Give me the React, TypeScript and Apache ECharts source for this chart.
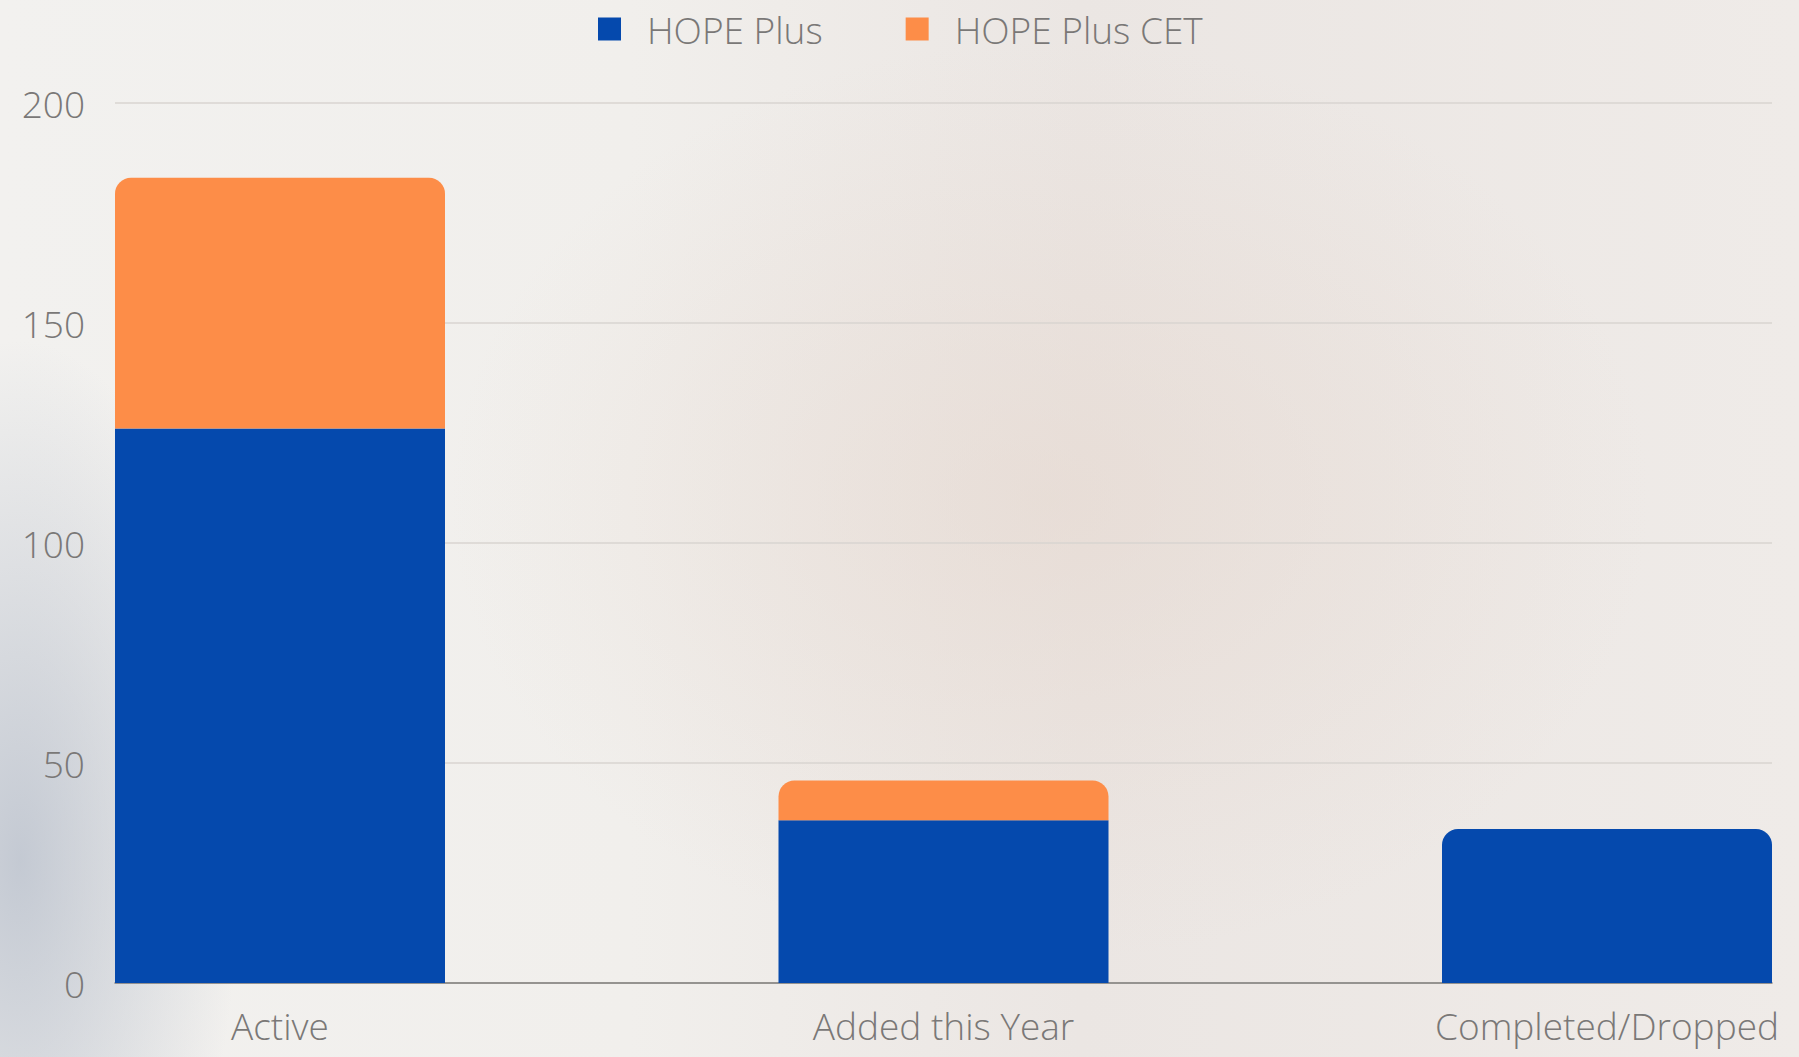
import React, { useEffect, useRef } from "react";
import * as echarts from "echarts";

const categories = ["Active", "Added this Year", "Completed/Dropped"];
const hopePlus = [126, 37, 35];
const hopePlusCET = [57, 9, 0];
const seriesNames = ["HOPE Plus", "HOPE Plus CET"];
const yTicks = { min: 0, max: 200, interval: 50 };

const BLUE = "#0549ad";
const ORANGE = "#fd8d48";
const TEXT = "#7a7877";
const FONT = "'Open Sans', 'Noto Sans', sans-serif";

export default function App() {
  const ref = useRef<HTMLDivElement>(null);
  useEffect(() => {
    document.body.style.margin = "0";
    if (!ref.current) return;
    const chart = echarts.init(ref.current, undefined, { renderer: "svg" });
    const radius = [16, 16, 0, 0];
    chart.setOption({
      animation: false,
      backgroundColor: "transparent",
      textStyle: { fontFamily: FONT },
      legend: {
        left: 593,
        top: 4,
        icon: "rect",
        itemWidth: 23,
        itemHeight: 23,
        itemGap: 83,
        data: seriesNames,
        textStyle: {
          fontSize: 37,
          fontWeight: 300,
          color: TEXT,
          fontFamily: FONT,
          lineHeight: 40,
          padding: [0, 0, 0, 21],
        },
      },
      grid: [
        { left: 115, right: 27, top: 103, bottom: 74 },
        { left: 280, right: 192, top: 103, bottom: 74 },
      ],
      xAxis: [
        {
          gridIndex: 0,
          type: "value",
          min: 0,
          max: 1,
          axisLine: { show: true, lineStyle: { color: "#7d7b79", width: 1.5 } },
          axisTick: { show: false },
          axisLabel: { show: false },
          splitLine: { show: false },
        },
        {
          gridIndex: 1,
          type: "category",
          data: categories,
          boundaryGap: false,
          axisLine: { show: false },
          axisTick: { show: false },
          splitLine: { show: false },
          axisLabel: {
            fontSize: 37,
            fontWeight: 300,
            color: TEXT,
            fontFamily: FONT,
            margin: 24,
            interval: 0,
          },
        },
      ],
      yAxis: [
        {
          gridIndex: 0,
          type: "value",
          min: yTicks.min,
          max: yTicks.max,
          interval: yTicks.interval,
          axisLine: { show: false },
          axisTick: { show: false },
          splitLine: { show: true, lineStyle: { color: "#d9d5d1", width: 1.5 } },
          axisLabel: {
            fontSize: 37,
            fontWeight: 300,
            color: TEXT,
            fontFamily: FONT,
            margin: 30,
          },
        },
        {
          gridIndex: 1,
          type: "value",
          min: yTicks.min,
          max: yTicks.max,
          interval: yTicks.interval,
          show: false,
          splitLine: { show: false },
        },
      ],
      series: [
        {
          name: seriesNames[0],
          type: "bar",
          stack: "total",
          xAxisIndex: 1,
          yAxisIndex: 1,
          barWidth: 330,
          itemStyle: { color: BLUE },
          data: hopePlus.map((v, i) => ({
            value: v,
            itemStyle: hopePlusCET[i] ? { color: BLUE } : { color: BLUE, borderRadius: radius },
          })),
        },
        {
          name: seriesNames[1],
          type: "bar",
          stack: "total",
          xAxisIndex: 1,
          yAxisIndex: 1,
          barWidth: 330,
          itemStyle: { color: ORANGE, borderRadius: radius },
          data: hopePlusCET.map((v) => (v ? v : null)),
        },
      ],
    });
    return () => chart.dispose();
  }, []);

  return (
    <div
      style={{
        position: "fixed",
        left: 0,
        top: 0,
        width: 1799,
        height: 1057,
        background:
          "radial-gradient(ellipse 220px 520px at 20px 860px, rgba(165,175,192,0.6), rgba(165,175,192,0) 100%)," +
          "radial-gradient(ellipse 600px 460px at 1050px 500px, rgba(228,212,202,0.5), rgba(228,212,202,0) 100%)," +
          "linear-gradient(90deg, #f2f1ef 0%, #f1efec 35%, #ebe6e3 60%, #efebe8 100%)",
      }}
    >
      <div ref={ref} style={{ width: 1799, height: 1057 }} />
    </div>
  );
}
